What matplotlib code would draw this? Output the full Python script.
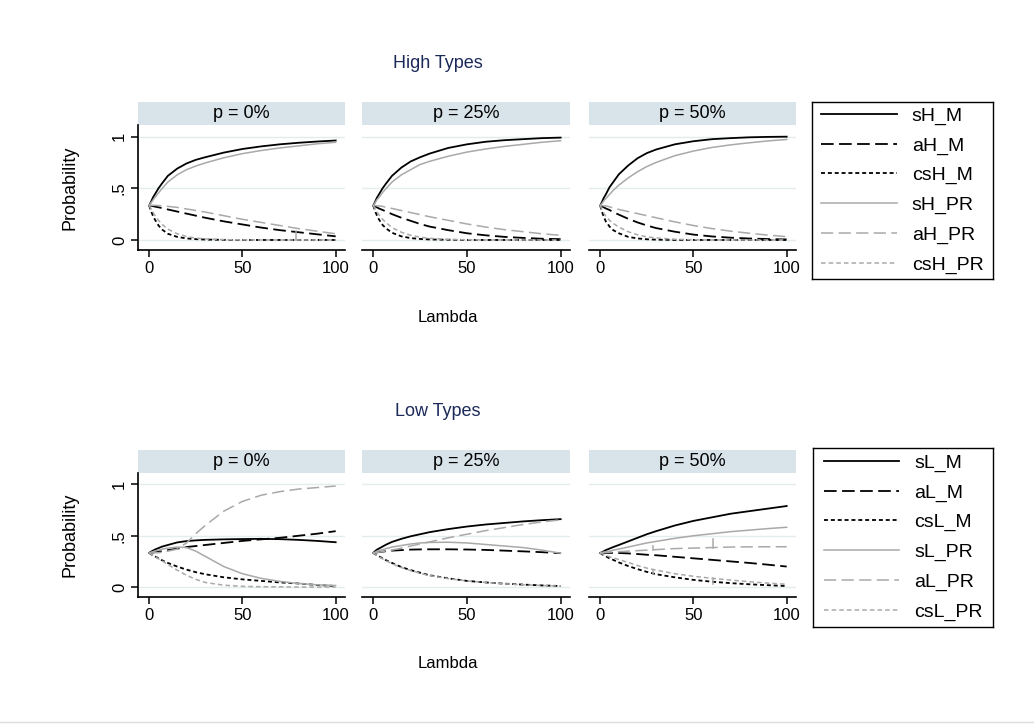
import numpy as np
import matplotlib
matplotlib.use("Agg")
import matplotlib.pyplot as plt
from matplotlib.lines import Line2D

plt.rcParams['font.family'] = ['Liberation Sans', 'DejaVu Sans']

# lambda grid shared by every series
lam = [0, 1, 2, 3, 5, 7, 10, 15, 20, 25, 30, 40, 50, 60, 70, 80, 90, 100]

# ---- high types ----
sH_M_p0 = [.333, .37, .41, .44, .50, .55, .62, .69, .74, .775, .80, .845, .88, .905, .925, .94, .952, .962]
aH_M_p0 = [.333, .33, .327, .323, .316, .308, .295, .275, .255, .235, .215, .18, .15, .12, .095, .075, .055, .035]
csH_M_p0 = [.333, .28, .235, .20, .14, .10, .06, .03, .015, .008, .004, .001, 0, 0, 0, 0, 0, 0]
sH_PR_p0 = [.333, .36, .385, .41, .455, .50, .56, .63, .68, .715, .745, .795, .835, .865, .89, .91, .93, .945]
aH_PR_p0 = [.333, .335, .335, .335, .333, .33, .325, .315, .30, .285, .27, .235, .20, .17, .14, .11, .085, .06]
csH_PR_p0 = [.333, .30, .27, .24, .19, .15, .105, .06, .033, .018, .01, .003, .001, 0, 0, 0, 0, 0]

sH_M_p25 = [.333, .37, .41, .44, .50, .55, .62, .70, .76, .80, .835, .89, .925, .95, .965, .975, .985, .99]
aH_M_p25 = [.333, .325, .315, .305, .29, .275, .25, .215, .185, .155, .13, .095, .065, .045, .03, .02, .012, .008]
csH_M_p25 = [.333, .28, .235, .20, .145, .11, .07, .035, .018, .01, .005, .002, 0, 0, 0, 0, 0, 0]
sH_PR_p25 = [.333, .36, .39, .41, .46, .50, .56, .63, .68, .73, .76, .81, .85, .88, .905, .925, .945, .96]
aH_PR_p25 = [.333, .333, .33, .33, .325, .315, .305, .285, .265, .245, .225, .19, .155, .125, .10, .08, .06, .045]
csH_PR_p25 = [.333, .30, .27, .245, .20, .165, .12, .075, .045, .027, .016, .006, .002, 0, 0, 0, 0, 0]

sH_M_p50 = [.333, .37, .41, .44, .51, .56, .635, .72, .79, .84, .875, .925, .955, .975, .985, .993, .997, .999]
aH_M_p50 = [.333, .325, .315, .305, .29, .27, .245, .205, .17, .14, .115, .08, .052, .034, .022, .014, .009, .005]
csH_M_p50 = [.333, .27, .22, .18, .13, .095, .065, .03, .015, .007, .003, 0, 0, 0, 0, 0, 0, 0]
sH_PR_p50 = [.333, .355, .38, .40, .44, .48, .53, .60, .66, .71, .75, .815, .86, .895, .92, .94, .958, .972]
aH_PR_p50 = [.333, .333, .33, .33, .32, .31, .295, .275, .255, .235, .215, .175, .14, .11, .085, .065, .047, .032]
csH_PR_p50 = [.333, .29, .26, .23, .19, .16, .125, .08, .05, .03, .02, .007, .002, 0, 0, 0, 0, 0]

# ---- low types ----
sL_M_p0 = [.333, .345, .355, .365, .38, .395, .41, .435, .448, .455, .46, .465, .468, .47, .467, .46, .45, .437]
aL_M_p0 = [.333, .335, .337, .34, .345, .35, .36, .375, .39, .40, .41, .43, .45, .465, .48, .50, .52, .545]
csL_M_p0 = [.333, .32, .31, .30, .28, .26, .235, .20, .17, .145, .125, .095, .075, .06, .045, .035, .02, .01]
sL_PR_p0 = [.333, .34, .345, .35, .36, .37, .38, .39, .385, .35, .30, .20, .13, .085, .055, .035, .022, .015]
aL_PR_p0 = [.333, .333, .333, .335, .335, .34, .35, .37, .43, .52, .60, .74, .835, .895, .93, .955, .97, .985]
csL_PR_p0 = [.333, .32, .31, .30, .275, .255, .22, .165, .115, .075, .045, .018, .007, .003, .002, 0, 0, 0]

sL_M_p25 = [.333, .35, .365, .375, .395, .415, .44, .47, .495, .515, .535, .565, .59, .61, .625, .64, .652, .662]
aL_M_p25 = [.333, .335, .338, .34, .345, .35, .355, .36, .365, .367, .368, .368, .366, .362, .355, .348, .34, .33]
csL_M_p25 = [.333, .32, .31, .30, .28, .26, .235, .195, .165, .14, .115, .085, .06, .045, .033, .024, .016, .01]
sL_PR_p25 = [.333, .34, .35, .355, .365, .375, .39, .405, .42, .43, .435, .437, .43, .415, .40, .385, .36, .33]
aL_PR_p25 = [.333, .335, .337, .34, .345, .35, .36, .38, .40, .42, .44, .48, .515, .55, .58, .61, .635, .655]
csL_PR_p25 = [.333, .32, .308, .297, .275, .255, .228, .19, .16, .135, .112, .082, .06, .045, .032, .022, .015, .01]

sL_M_p50 = [.333, .34, .35, .36, .375, .39, .41, .445, .48, .515, .545, .60, .645, .68, .715, .74, .765, .79]
aL_M_p50 = [.333, .333, .333, .333, .333, .333, .332, .328, .322, .315, .31, .295, .28, .265, .25, .235, .218, .20]
csL_M_p50 = [.333, .32, .31, .30, .28, .265, .24, .205, .175, .148, .125, .095, .07, .052, .038, .027, .018, .01]
sL_PR_p50 = [.333, .337, .34, .345, .35, .36, .37, .39, .41, .43, .445, .475, .50, .52, .54, .555, .57, .583]
aL_PR_p50 = [.333, .335, .337, .338, .34, .342, .345, .35, .355, .36, .365, .375, .38, .385, .39, .392, .393, .393]
csL_PR_p50 = [.333, .325, .318, .31, .295, .285, .268, .24, .21, .185, .165, .13, .105, .085, .068, .052, .038, .027]

# single-point solver glitches: (row, col, series, lambda, from, to)
glitch_row = [0, 1, 1, 1, 1]
glitch_col = [0, 2, 2, 2, 2]
glitch_series = [4, 4, 4, 5, 5]
glitch_lam = [78.5, 28.5, 60.5, 28.5, 60.5]
glitch_from = [0.09, 0.365, 0.385, 0.165, 0.085]
glitch_to = [0.0, 0.405, 0.465, 0.13, 0.025]

p_labels = ["p = 0%", "p = 25%", "p = 50%"]
row_titles = ["High Types", "Low Types"]
names_high = ["sH_M", "aH_M", "csH_M", "sH_PR", "aH_PR", "csH_PR"]
names_low = ["sL_M", "aL_M", "csL_M", "sL_PR", "aL_PR", "csL_PR"]

high = [[sH_M_p0, aH_M_p0, csH_M_p0, sH_PR_p0, aH_PR_p0, csH_PR_p0],
        [sH_M_p25, aH_M_p25, csH_M_p25, sH_PR_p25, aH_PR_p25, csH_PR_p25],
        [sH_M_p50, aH_M_p50, csH_M_p50, sH_PR_p50, aH_PR_p50, csH_PR_p50]]
low = [[sL_M_p0, aL_M_p0, csL_M_p0, sL_PR_p0, aL_PR_p0, csL_PR_p0],
       [sL_M_p25, aL_M_p25, csL_M_p25, sL_PR_p25, aL_PR_p25, csL_PR_p25],
       [sL_M_p50, aL_M_p50, csL_M_p50, sL_PR_p50, aL_PR_p50, csL_PR_p50]]
rows = [high, low]
names = [names_high, names_low]

GRAY = '#a9a9a9'
styles = [dict(color='black', lw=1.3, linestyle='-'),
          dict(color='black', lw=1.3, dashes=(7, 3)),
          dict(color='black', lw=1.3, dashes=(2.2, 1.6)),
          dict(color=GRAY, lw=1.1, linestyle='-'),
          dict(color=GRAY, lw=1.1, dashes=(8, 3.5)),
          dict(color=GRAY, lw=1.1, dashes=(3, 2))]

STRIP = '#d9e4ea'
GRID = '#e4ecef'
NAVY = '#1c2a5a'

W, H = 1034, 728
fig = plt.figure(figsize=(W / 100, H / 100), dpi=100)
fig.patch.set_facecolor('white')


def rect(x0, y0, x1, y1):
    return [x0 / W, 1 - y1 / H, (x1 - x0) / W, (y1 - y0) / H]


cols_px = [(138, 345), (362, 570), (589, 796)]
row_px = [dict(strip=(102, 125), plot=(125, 250), title=63, xlab=318, legend=(812, 102, 993, 279)),
          dict(strip=(450, 473), plot=(473, 597), title=412, xlab=663, legend=(813, 448, 993, 627))]

for r, rp in enumerate(row_px):
    handles = []
    for c, (x0, x1) in enumerate(cols_px):
        # facet strip
        sax = fig.add_axes(rect(x0, rp['strip'][0], x1, rp['strip'][1]))
        sax.set_facecolor(STRIP)
        sax.set_xticks([]); sax.set_yticks([])
        for s in sax.spines.values():
            s.set_visible(False)
        sax.text(0.5, 0.5, p_labels[c], ha='center', va='center', fontsize=13)

        ax = fig.add_axes(rect(x0, rp['plot'][0], x1, rp['plot'][1]))
        ax.set_xlim(-6, 105)
        ax.set_ylim(-0.097, 1.112)
        for y in [0, 0.5, 1]:
            ax.axhline(y, color=GRID, lw=1.0, zorder=0)
        for k, series in enumerate(rows[r][c]):
            ln, = ax.plot(lam, series, label=names[r][k], **styles[k])
            if c == 0:
                handles.append(ln)
        for g in range(len(glitch_lam)):
            if glitch_row[g] == r and glitch_col[g] == c:
                st = styles[glitch_series[g]]
                ax.plot([glitch_lam[g], glitch_lam[g]], [glitch_from[g], glitch_to[g]],
                        color=st['color'], lw=st['lw'])
        ax.spines['top'].set_visible(False)
        ax.spines['right'].set_visible(False)
        ax.spines['bottom'].set_linewidth(1.2)
        ax.set_xticks([0, 50, 100])
        ax.tick_params(axis='x', length=5, width=1.1, labelsize=12, pad=3)
        if c == 0:
            ax.spines['left'].set_linewidth(1.2)
            ax.set_yticks([0, 0.5, 1])
            ax.set_yticklabels(['0', '.5', '1'], rotation=90, va='center')
            ax.tick_params(axis='y', length=5, width=1.1, labelsize=12, pad=3)
        else:
            ax.spines['left'].set_visible(False)
            ax.set_yticks([])
        ax.set_facecolor('none')

    fig.text(438 / W, 1 - rp['title'] / H, row_titles[r], ha='center', va='center',
             fontsize=13, color=NAVY)
    fig.text(448 / W, 1 - rp['xlab'] / H, "Lambda", ha='center', va='center', fontsize=12)
    mid = (rp['plot'][0] + rp['plot'][1]) / 2
    fig.text(70 / W, 1 - mid / H, "Probability", ha='center', va='center',
             rotation=90, fontsize=13)

    # legend box
    lx0, ly0, lx1, ly1 = rp['legend']
    lax = fig.add_axes(rect(lx0, ly0, lx1, ly1))
    lax.set_xticks([]); lax.set_yticks([])
    for s in lax.spines.values():
        s.set_linewidth(1.0)
        s.set_color('black')
    lax.legend(handles=handles, loc='center', frameon=False, fontsize=14,
               handlelength=3.9, handletextpad=0.75, labelspacing=0.62,
               borderaxespad=0)

# faint outer rule along the bottom
fig.add_artist(Line2D([0, 1], [1 - 722 / H, 1 - 722 / H], transform=fig.transFigure,
                      color='#dcdcdc', lw=1.0))

fig.savefig("out.png", dpi=100)
